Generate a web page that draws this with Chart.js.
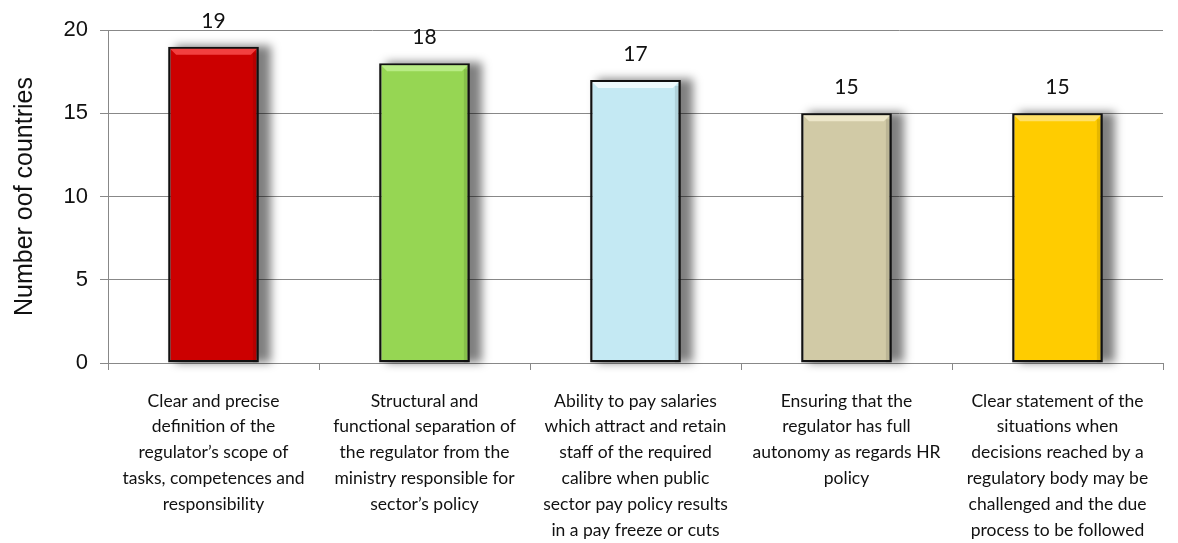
<!DOCTYPE html>
<html>
<head>
<meta charset="utf-8">
<script src="https://cdn.jsdelivr.net/npm/chart.js@4"></script>
<style>
  html, body { margin: 0; padding: 0; background: #fff; }
  #wrap { width: 1178px; height: 543px; }
</style>
</head>
<body>
<div id="wrap"><canvas id="myChart" width="1178" height="543"></canvas></div>
<script>
// categories, each split into the lines shown under the axis
const categories = [
  ["Clear and precise", "definition of the", "regulator\u2019s scope of", "tasks, competences and", "responsibility"],
  ["Structural and", "functional separation of", "the regulator from the", "ministry responsible for", "sector\u2019s policy"],
  ["Ability to pay salaries", "which attract and retain", "staff of the required", "calibre when public", "sector pay policy results", "in a pay freeze or cuts"],
  ["Ensuring that the", "regulator has full", "autonomy as regards HR", "policy"],
  ["Clear statement of the", "situations when", "decisions reached by a", "regulatory body may be", "challenged and the due", "process to be followed"]
]
const countries = [19, 18, 17, 15, 15]
const yTicks = [0, 5, 10, 15, 20]
const barColors = ["#cc0000", "#96d653", "#c4e9f3", "#d1caa6", "#ffcc00"]
const bevelColors = ["#f24040", "#b8ec85", "#eefafd", "#ede7ca", "#ffe066"]

const labelFont = "Lato, 'Open Sans', sans-serif"

// soft shadow behind the bars, bevel and value labels on top
const barDeco = {
  id: "barDeco",
  beforeDatasetsDraw(chart){
    const ctx = chart.ctx
    const meta = chart.getDatasetMeta(0)
    ctx.save()
    ctx.filter = "blur(5px)"
    ctx.fillStyle = "rgba(0,0,0,0.5)"
    meta.data.forEach(bar => {
      ctx.fillRect(bar.x - bar.width / 2 + 7, bar.y - 1, bar.width + 5, bar.base - bar.y + 1)
    })
    ctx.restore()
  },
  afterDatasetsDraw(chart){
    const ctx = chart.ctx
    const meta = chart.getDatasetMeta(0)
    ctx.save()
    meta.data.forEach((bar, i) => {
      const l = bar.x - bar.width / 2 + 2
      const r = bar.x + bar.width / 2 - 2
      const t = bar.y + 2
      // top bevel
      ctx.fillStyle = bevelColors[i]
      ctx.beginPath()
      ctx.moveTo(l, t)
      ctx.lineTo(r, t)
      ctx.lineTo(r - 6, t + 6)
      ctx.lineTo(l + 6, t + 6)
      ctx.closePath()
      ctx.fill()
      // darker right edge
      ctx.fillStyle = "rgba(0,0,0,0.10)"
      ctx.fillRect(r - 4, t + 4, 4, bar.base - t - 4)
      // value label
      ctx.fillStyle = "#111"
      ctx.font = "21px " + labelFont
      ctx.textAlign = "center"
      ctx.textBaseline = "alphabetic"
      ctx.fillText(countries[i], bar.x, bar.y - 19)
    })
    ctx.restore()
  }
}

new Chart("myChart", {
  type: "bar",
  data: {
    labels: categories,
    datasets: [{
      data: countries,
      backgroundColor: barColors,
      borderColor: "#111",
      borderWidth: 2.5,
      borderSkipped: false,
      barPercentage: 0.43,
      categoryPercentage: 1
    }]
  },
  options: {
    responsive: false,
    animation: false,
    layout: { padding: { left: 0, right: 15, top: 30, bottom: 0 } },
    plugins: { legend: { display: false }, tooltip: { enabled: false } },
    scales: {
      x: {
        afterFit(axis){ axis.height = 180 },
        grid: { display: true, drawOnChartArea: false, drawTicks: true, tickLength: 7, offset: true, color: "#888" },
        border: { color: "#888" },
        ticks: {
          autoSkip: false, maxRotation: 0, minRotation: 0,
          color: "#111", padding: 18,
          font: { family: labelFont, size: 17.5, lineHeight: 1.48 }
        }
      },
      y: {
        min: 0, max: 20,
        afterFit(axis){ axis.width = 108 },
        afterBuildTicks(axis){ axis.ticks = yTicks.map(v => ({ value: v })) },
        grid: { color: "#888", tickLength: 8 },
        border: { color: "#888" },
        ticks: { color: "#111", padding: 12, font: { family: "'Liberation Sans', Arial, sans-serif", size: 22 } },
        title: { display: true, text: "Number oof countries", color: "#111", padding: { top: 10, bottom: 0 },
                 font: { family: "'Liberation Sans', Arial, sans-serif", size: 25 } }
      }
    }
  },
  plugins: [barDeco]
})
</script>
</body>
</html>
